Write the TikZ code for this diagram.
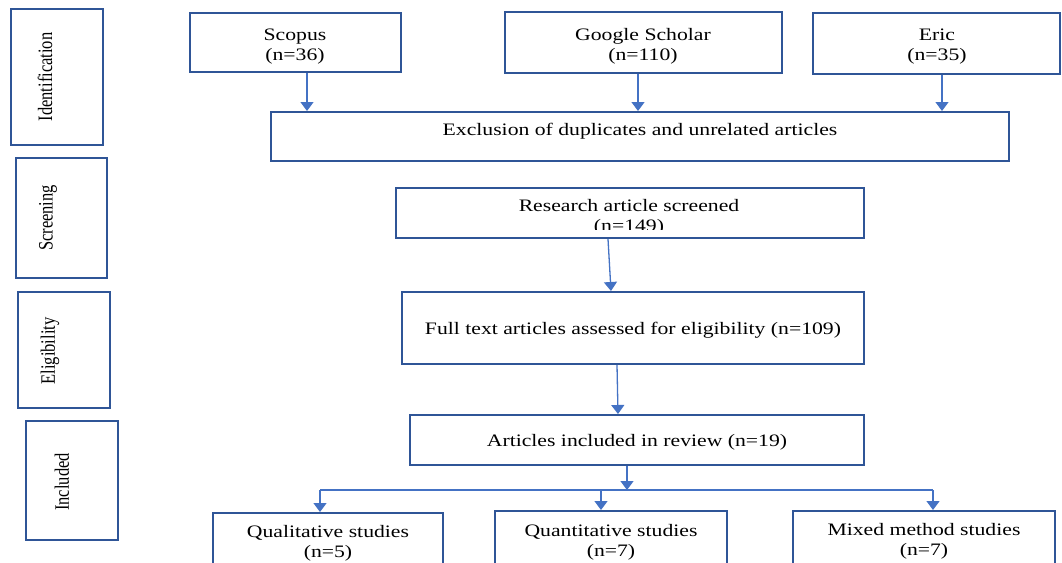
\documentclass[tikz,border=0pt]{standalone}
\usepackage{fontspec}
\setmainfont{Liberation Serif}[FakeStretch=1.24]
\newfontfamily\lblfont{Liberation Serif}
\usepackage{graphicx}
\usetikzlibrary{arrows.meta,calc}
\definecolor{boxblue}{HTML}{2F5597}
\definecolor{arrblue}{HTML}{4472C4}
\newcommand{\twol}[2]{\begin{tabular}[t]{@{}c@{}}#1\\#2\end{tabular}}
\begin{document}
\begin{tikzpicture}[x=1pt,y=-1pt,
  box/.style={draw=boxblue, line width=2pt, rectangle, inner sep=0pt},
  txt/.style={font=\fontsize{17.5}{20}\selectfont, inner sep=0pt, anchor=base, text=black},
  lbl/.style={font=\lblfont\fontsize{16.5}{19}\selectfont, rotate=90, inner sep=0pt, text=black},
  arr/.style={draw=arrblue, line width=1.3pt, -{Triangle[width=13pt,length=9pt]}},
  conn/.style={draw=arrblue, line width=1.3pt}]
\useasboundingbox (0,0) rectangle (1062,562);
\clip (0,0) rectangle (1062,562);
\fill[white] (0,0) rectangle (1062,562);

% stage boxes
\node[box, minimum width=92pt, minimum height=136pt] (idb) at (57,77) {};
\node[box, minimum width=91pt, minimum height=120pt] (scb) at (61.5,218) {};
\node[box, minimum width=92pt, minimum height=116pt] (elb) at (64,350) {};
\node[box, minimum width=92pt, minimum height=119pt] (inb) at (72,480.5) {};
\node[lbl] (idl) at (45,77) {\scalebox{1}[1.24]{Identification}};
\node[lbl] (scl) at (48,218) {\scalebox{1}[1.24]{Screening}};
\node[lbl] (ell) at (50,351) {\scalebox{1}[1.24]{Eligibility}};
\node[lbl] (inl) at (62,482) {\scalebox{1}[1.24]{Included}};

% flow boxes
\node[box, minimum width=211pt, minimum height=59pt] (scopus) at (295.5,42.5) {};
\node[box, minimum width=277pt, minimum height=61pt] (google) at (643.5,42.5) {};
\node[box, minimum width=247pt, minimum height=61pt] (eric) at (936.5,43.5) {};
\node[box, minimum width=738pt, minimum height=49pt] (excl) at (640,136.5) {};
\node[box, minimum width=468pt, minimum height=50pt] (research) at (630,213) {};
\node[box, minimum width=462pt, minimum height=72pt] (full) at (633,328) {};
\node[box, minimum width=454pt, minimum height=50pt] (articles) at (637,440) {};
\node[box, minimum width=230pt, minimum height=60pt] (qual) at (328,543) {};
\node[box, minimum width=232pt, minimum height=62pt] (quant) at (611,542) {};
\node[box, minimum width=262pt, minimum height=62pt] (mixed) at (924,542) {};

% texts
\node[txt] (scopusT) at (295,40) {\twol{Scopus}{(n=36)}};
\node[txt] (googleT) at (643,40) {\twol{Google Scholar}{(n=110)}};
\node[txt] (ericT) at (937,40) {\twol{Eric}{(n=35)}};
\node[txt] (exclT) at (640,135.3) {Exclusion of duplicates and unrelated articles};
\begin{scope}
  \clip (397,180) rectangle (863,229.5);
  \node[txt] (researchT) at (629,211.5) {\twol{Research article screened}{(n=149)}};
\end{scope}
\node[txt] (fullT) at (633,334) {Full text articles assessed for eligibility (n=109)};
\node[txt] (articlesT) at (637,446.5) {Articles included in review (n=19)};
\node[txt] (qualT) at (328,537.5) {\twol{Qualitative studies}{(n=5)}};
\node[txt] (quantT) at (611,536) {\twol{Quantitative studies}{(n=7)}};
\node[txt] (mixedT) at (924,535) {\twol{Mixed method studies}{(n=7)}};

% connectors
\draw[arr] ([xshift=11.5pt]scopus.south) -- ([xshift=11.5pt]scopus.south |- excl.north);
\draw[arr] ([xshift=-5.5pt]google.south) -- ([xshift=-5.5pt]google.south |- excl.north);
\draw[arr] ([xshift=5.5pt]eric.south) -- ([xshift=5.5pt]eric.south |- excl.north);
\draw[arr] ([xshift=-22pt]research.south) -- ([xshift=-22pt]full.north);
\draw[arr] ([xshift=-16pt]full.south) -- ([xshift=-19pt]articles.north);
\coordinate (split) at (627,490);
\coordinate (hl) at (320,490);
\coordinate (hm) at (601,490);
\coordinate (hr) at (933,490);
\draw[arr] (articles.south -| split) -- (split);
\draw[conn] (hl) -- (hr);
\draw[arr] (hl) -- (qual.north -| hl);
\draw[arr] (hm) -- (quant.north -| hm);
\draw[arr] (hr) -- (mixed.north -| hr);
\end{tikzpicture}
\end{document}
